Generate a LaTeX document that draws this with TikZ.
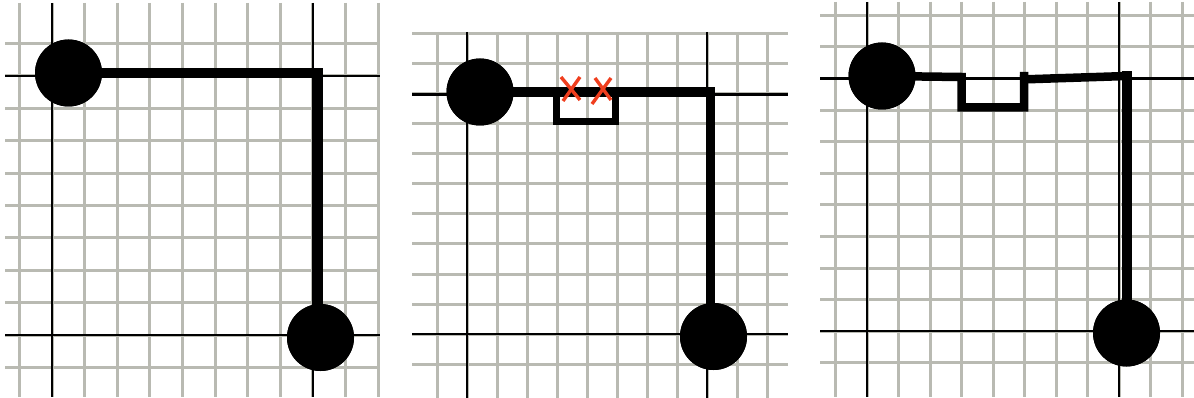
\documentclass[tikz,border=0pt]{standalone}
\definecolor{gridgray}{RGB}{185,186,178}
\definecolor{xred}{RGB}{240,62,30}
\tikzset{
  gridline/.style={draw=gridgray, line width=3pt},
  axisline/.style={draw=black, line width=2.8pt},
  dot/.style={circle, fill=black, inner sep=0pt, minimum size=67pt},
  wire/.style={draw=black, line width=9.5pt, line join=miter},
  notch/.style={draw=black, line width=7pt, line join=miter},
  cross/.style={draw=xred, line width=3.4pt}
}
\begin{document}
\begin{tikzpicture}[x=1pt, y=-1pt]
\useasboundingbox (0,0) rectangle (1194,398);
\fill[white] (0,0) rectangle (1194,398);

% ---------- Panel 1 ----------
\foreach \k in {-1,...,10} \draw[gridline] ({52+\k*32.6},3) -- ({52+\k*32.6},397);
\foreach \k in {-1,...,9} \draw[gridline] (5,{76+\k*32.4}) -- (380,{76+\k*32.4});
\draw[axisline] (52,3) -- (52,397);
\draw[axisline] (313,3) -- (313,397);
\draw[axisline] (5,76) -- (380,76);
\draw[axisline] (5,335) -- (380,335);

\node[dot] (a1) at (68.5,73) {};
\node[dot] (b1) at (320.5,337.5) {};
\coordinate (k1) at (318,73);
\draw[wire] (a1.center) -- (k1) -- (318,337.5) -- (b1.center);
\node[dot] at (a1) {};
\node[dot] at (b1) {};

% ---------- Panel 2 ----------
\foreach \k in {-1,...,10} \draw[gridline] ({467+\k*30},32) -- ({467+\k*30},398);
\foreach \k in {-2,...,9} \draw[gridline] (412,{94+\k*30}) -- (788,{94+\k*30});
\draw[axisline] (467,32) -- (467,398);
\draw[axisline] (707,32) -- (707,398);
\draw[axisline] (412,94.5) -- (788,94.5);
\draw[axisline] (412,334) -- (788,334);

\node[dot] (a2) at (480,92) {};
\node[dot] (b2) at (713.5,336.5) {};
\coordinate (k2) at (710.5,92);
\draw[wire] (a2.center) -- (k2) -- (710.5,336.5) -- (b2.center);
\coordinate (n2a) at (556.5,92);
\coordinate (n2b) at (615.5,92);
\draw[notch] (n2a) -- (556.5,121.5) -- (615.5,121.5) -- (n2b);
\node[dot] at (a2) {};
\node[dot] at (b2) {};
\draw[cross] (561,77) -- (580,100);
\draw[cross] (580,77) -- (563,101);
\draw[cross] (595,78) -- (611,100);
\draw[cross] (611,78) -- (592,104);

% ---------- Panel 3 ----------
\foreach \k in {-1,...,10} \draw[gridline] ({867+\k*31.5},2) -- ({867+\k*31.5},397);
\foreach \k in {-2,...,9} \draw[gridline] (820,{78.5+\k*31.6}) -- (1194,{78.5+\k*31.6});
\draw[axisline] (867,2) -- (867,397);
\draw[axisline] (1119,2) -- (1119,397);
\draw[axisline] (820,78.5) -- (1194,78.5);
\draw[axisline] (820,331) -- (1194,331);

\node[dot] (a3) at (882,76) {};
\node[dot] (b3) at (1126.5,333) {};
\coordinate (n3a) at (961.5,77);
\coordinate (n3b) at (1024,72);
\coordinate (k3) at (1127,76);
\draw[notch, line width=8.5pt] (a3.center) -- (n3a) -- (961.5,107.5) -- (1024,107.5) -- (n3b);
\draw[wire, line width=8.5pt] (1020,79.5) -- (k3);
\draw[wire, line width=10pt] (1127,71.5) -- (1127,333) -- (b3.center);
\node[dot] at (a3) {};
\node[dot] at (b3) {};
\end{tikzpicture}
\end{document}
